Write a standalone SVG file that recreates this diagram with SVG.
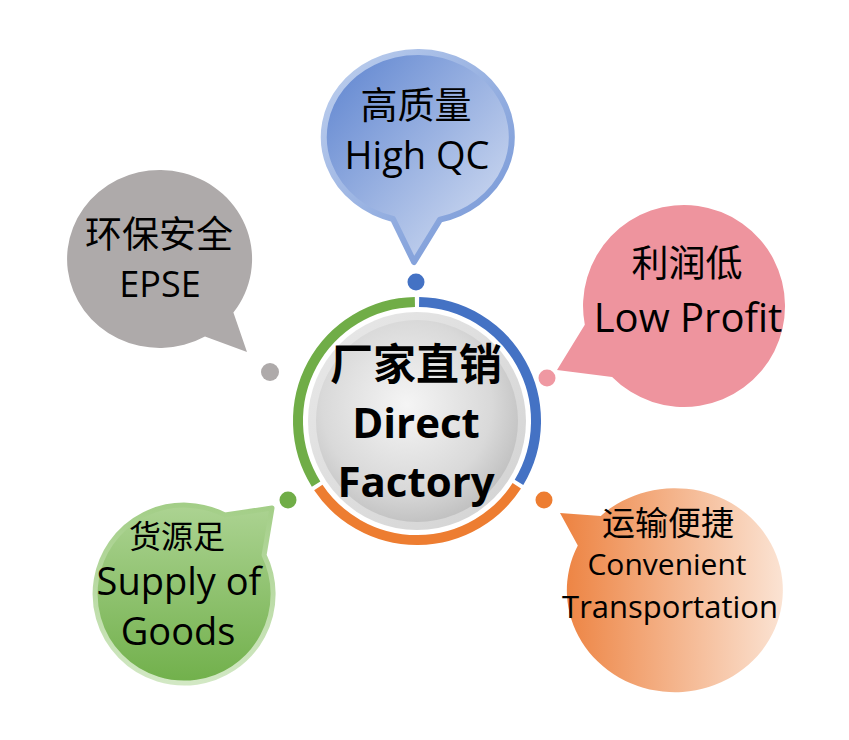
<svg xmlns="http://www.w3.org/2000/svg" width="849" height="740" viewBox="0 0 849 740">
  <defs>
    <linearGradient id="gBlueFill" x1="0" y1="0" x2="1" y2="1">
      <stop offset="0" stop-color="#5b82cf"/>
      <stop offset="1" stop-color="#dde5f5"/>
    </linearGradient>
    <linearGradient id="gBlueRim" x1="0" y1="0" x2="1" y2="1">
      <stop offset="0" stop-color="#bfd0ee"/>
      <stop offset="1" stop-color="#7193d5"/>
    </linearGradient>
    <linearGradient id="gGreenFill" x1="0" y1="0" x2="0" y2="1">
      <stop offset="0" stop-color="#acd392"/>
      <stop offset="1" stop-color="#71b04b"/>
    </linearGradient>
    <linearGradient id="gGreenRim" x1="0" y1="0" x2="0" y2="1">
      <stop offset="0" stop-color="#a3ce87"/>
      <stop offset="1" stop-color="#d2e8c4"/>
    </linearGradient>
    <linearGradient id="gOrangeFill" x1="0" y1="0" x2="1" y2="0">
      <stop offset="0" stop-color="#ed8240"/>
      <stop offset="1" stop-color="#fbe3d3"/>
    </linearGradient>
    <radialGradient id="gDisc" cx="0.45" cy="0.42" r="0.6">
      <stop offset="0" stop-color="#f5f5f5"/>
      <stop offset="0.7" stop-color="#d9d9d9"/>
      <stop offset="1" stop-color="#c0c0c0"/>
    </radialGradient>
    <linearGradient id="gDiscRim" x1="0" y1="0" x2="1" y2="1">
      <stop offset="0" stop-color="#e9e9e9"/>
      <stop offset="1" stop-color="#d2d2d2"/>
    </linearGradient>
  </defs>
  <style>
    .t { font-family: "Open Sans", "Noto Sans CJK SC", sans-serif; fill: #000; text-anchor: middle; }
    .cjk { font-family: "Noto Sans CJK SC", sans-serif; fill: #000; text-anchor: middle; }
    .b { font-weight: bold; }
    .arc { fill: none; stroke-width: 10; }
  </style>
  <rect width="849" height="740" fill="#ffffff"/>

  <g id="connectors">
    <path class="arc" stroke="#4472c4" d="M 419.08 302.0 A 119 119 0 0 1 519.0 482.3"/>
    <path class="arc" stroke="#ed7d31" d="M 516.8 485.8 A 119 119 0 0 1 318.3 487.5"/>
    <path class="arc" stroke="#70ad47" d="M 316.1 484.1 A 119 119 0 0 1 414.9 302.0"/>
    <circle cx="416" cy="282" r="8.5" fill="#4472c4"/>
    <circle cx="547" cy="378" r="8.5" fill="#ef98a2"/>
    <circle cx="544" cy="500" r="8.5" fill="#ed7d31"/>
    <circle cx="288" cy="500" r="8.5" fill="#70ad47"/>
    <circle cx="270" cy="372" r="9" fill="#aeaaaa"/>
  </g>

  <g id="center">
    <circle cx="417" cy="421" r="109" fill="url(#gDiscRim)"/>
    <circle cx="417" cy="421" r="101" fill="url(#gDisc)"/>
    <text class="cjk b" x="416" y="380" font-size="43">厂家直销</text>
    <text class="t b" x="416" y="438" font-size="42">Direct</text>
    <text class="t b" x="416" y="497" font-size="42">Factory</text>
  </g>

  <g id="node-highqc">
    <path d="M 414 262 L 393 219 A 94 85 0 1 1 440 219.6 Z" fill="url(#gBlueFill)" stroke="url(#gBlueRim)" stroke-width="6" stroke-linejoin="round"/>
    <text class="cjk" x="416" y="119" font-size="37">高质量</text>
    <text class="t" x="417" y="169" font-size="38">High QC</text>
  </g>

  <g id="node-epse">
    <path d="M 247 352 L 233.4 312.6 A 92.5 89 0 1 0 205 336.5 Z" fill="#aeaaaa"/>
    <text class="cjk" x="159" y="248" font-size="37">环保安全</text>
    <text class="t" x="160" y="297" font-size="36">EPSE</text>
  </g>

  <g id="node-lowprofit">
    <path d="M 557 370 L 584.8 324.8 A 101 101 0 1 1 612.1 376.9 Z" fill="#ee949e"/>
    <text class="cjk" x="687" y="277" font-size="37">利润低</text>
    <text class="t" x="688" y="332" font-size="40">Low Profit</text>
  </g>

  <g id="node-transport">
    <path d="M 560 513 L 600.8 515.9 A 108 102 0 1 1 577.8 545.4 Z" fill="url(#gOrangeFill)"/>
    <text class="cjk" x="668" y="535" font-size="33">运输便捷</text>
    <text class="t" x="667" y="575" font-size="30">Convenient</text>
    <text class="t" x="670" y="618" font-size="31">Transportation</text>
  </g>

  <g id="node-supply">
    <path d="M 272 508 L 224.9 515.0 A 89 89 0 1 0 264.1 555.1 Z" fill="url(#gGreenFill)" stroke="url(#gGreenRim)" stroke-width="5" stroke-linejoin="round"/>
    <text class="cjk" x="177" y="548" font-size="32">货源足</text>
    <text class="t" x="179" y="595" font-size="38">Supply of</text>
    <text class="t" x="178" y="645" font-size="38">Goods</text>
  </g>
</svg>
